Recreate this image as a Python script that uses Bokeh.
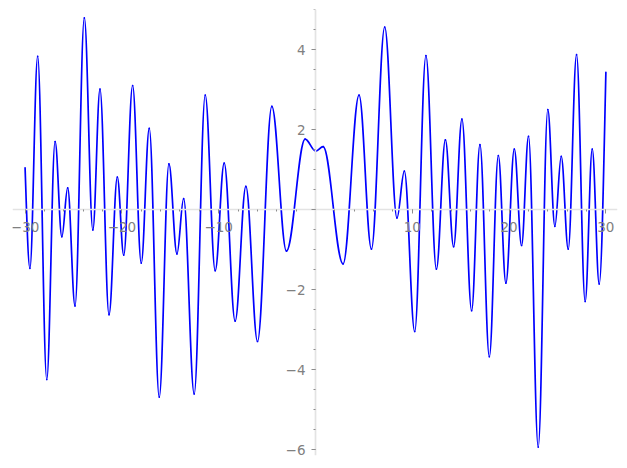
from bokeh.plotting import figure
from bokeh.models import Range1d, FixedTicker, ColumnDataSource
from bokeh.embed import file_html
from bokeh.resources import INLINE

# Extrema (and end points) of the curve
ext_x = [-30.0, -29.5, -28.7, -27.76, -26.9, -26.2, -25.6, -24.84, -23.88, -23.0,
         -22.26, -21.33, -20.47, -19.81, -18.89, -18.0, -17.17, -16.14, -15.14, -14.31,
         -13.62, -12.53, -11.39, -10.36, -9.43, -8.3, -7.19, -5.99, -4.51, -3.0,
         -1.07, 0.03, 0.79, 2.85, 4.5, 5.78, 7.15, 8.42, 9.18, 10.25,
         11.41, 12.49, 13.42, 14.27, 15.13, 16.13, 16.99, 17.96, 18.89, 19.67,
         20.54, 21.29, 22.01, 23.01, 24.0, 24.73, 25.39, 26.11, 26.97, 27.86,
         28.59, 29.31, 30.0]
ext_y = [1.05, -1.46, 3.84, -4.24, 1.71, -0.67, 0.55, -2.4, 4.8, -0.5,
         3.02, -2.62, 0.82, -1.13, 3.11, -1.33, 2.04, -4.68, 1.15, -1.1,
         0.28, -4.6, 2.87, -1.52, 1.17, -2.78, 0.59, -3.29, 2.59, -1.03,
         1.77, 1.47, 1.58, -1.35, 2.87, -0.98, 4.57, -0.2, 0.97, -3.04,
         3.86, -1.48, 1.75, -0.92, 2.27, -2.52, 1.63, -3.67, 1.36, -1.83,
         1.52, -0.89, 1.84, -5.93, 2.51, -0.41, 1.34, -0.98, 3.88, -2.29,
         1.52, -1.85, 3.44]

x_major = [-30, -20, -10, 0, 10, 20, 30]
x_minor = list(range(-30, 31, 2))
y_major = [-6, -4, -2, 0, 2, 4]
y_minor = [v / 2 for v in range(-12, 11)]
x_labels = {-30: "\u221230", -20: "\u221220", -10: "\u221210", 0: "", 10: "10", 20: "20", 30: "30"}
y_labels = {-6: "\u22126", -4: "\u22124", -2: "\u22122", 0: "", 2: "2", 4: "4"}

# Build smooth segments between consecutive extrema (horizontal tangents at extrema)
k = 0.364
x0s, y0s, x1s, y1s, cx0s, cy0s, cx1s, cy1s = [], [], [], [], [], [], [], []
n = len(ext_x)
for i in range(n - 1):
    xa, ya, xb, yb = ext_x[i], ext_y[i], ext_x[i + 1], ext_y[i + 1]
    dx = xb - xa
    c0x, c0y = xa + k * dx, ya
    c1x, c1y = xb - k * dx, yb
    if i == 0:
        c0x, c0y = xa + dx * 0.33, ya + (yb - ya) * 0.45
    if i == n - 2:
        c1x, c1y = xb - dx * 0.33, yb - (yb - ya) * 0.45
    x0s.append(xa); y0s.append(ya); x1s.append(xb); y1s.append(yb)
    cx0s.append(c0x); cy0s.append(c0y); cx1s.append(c1x); cy1s.append(c1y)

src = ColumnDataSource(dict(x0=x0s, y0=y0s, x1=x1s, y1=y1s,
                            cx0=cx0s, cy0=cy0s, cx1=cx1s, cy1=cy1s))

p = figure(width=619, height=460, output_backend="svg", toolbar_location=None,
           x_range=Range1d(-31.3, 31.2), y_range=Range1d(-6.14, 5.01),
           min_border_left=12, min_border_right=2, min_border_top=9, min_border_bottom=5)
p.outline_line_color = None
p.xgrid.visible = False
p.ygrid.visible = False
p.background_fill_color = "white"
p.border_fill_color = "white"

p.bezier(x0="x0", y0="y0", x1="x1", y1="y1", cx0="cx0", cy0="cy0", cx1="cx1", cy1="cy1",
         source=src, line_color="#0000ff", line_width=1.7, line_cap="round")

for ax, major, minor, labels in ((p.xaxis, x_major, x_minor, x_labels),
                                 (p.yaxis, y_major, y_minor, y_labels)):
    ax.fixed_location = 0
    ax.ticker = FixedTicker(ticks=major, minor_ticks=minor)
    ax.major_label_overrides = labels
    ax.axis_line_color = "#e3e3e3"
    ax.axis_line_width = 1.7
    ax.major_tick_line_color = "#8c8c8c"
    ax.minor_tick_line_color = "#8c8c8c"
    ax.major_tick_in = 0
    ax.major_tick_out = 4
    ax.minor_tick_in = 0
    ax.minor_tick_out = 2
    ax.major_label_text_color = "#808080"
    ax.major_label_text_font = "DejaVu Sans"
    ax.major_label_text_font_size = "13.5px"

p.xaxis.major_label_standoff = 8
p.yaxis.major_label_standoff = 6

open("out.html", "w").write(file_html(p, INLINE))
